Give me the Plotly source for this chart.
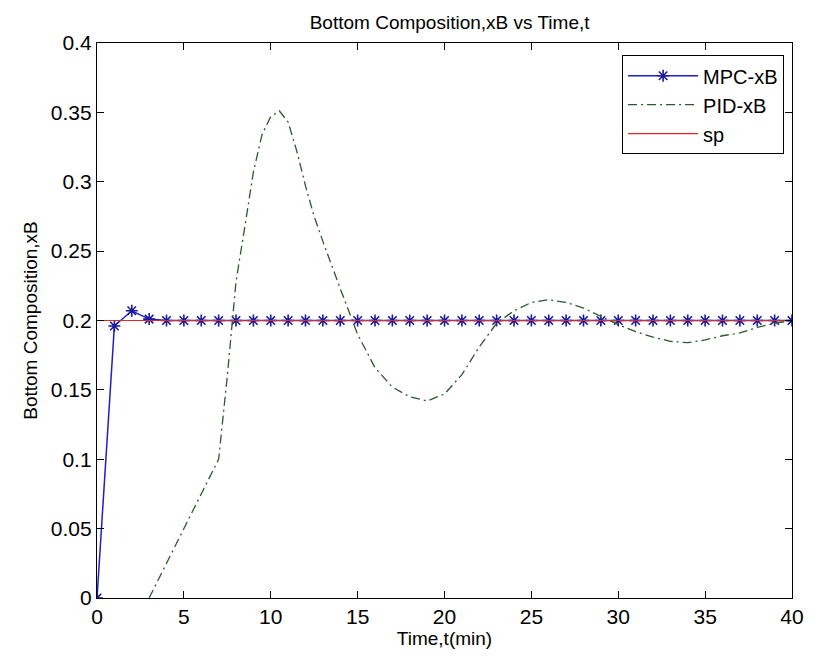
import plotly.graph_objects as go

# ---- data ----
mpc_t = list(range(0, 41))
mpc_xb = [0.0, 0.196, 0.207, 0.201] + [0.2] * 37

pid_t = [3, 4, 5, 6, 7, 7.5, 8, 8.5, 9, 9.5, 10, 10.5, 11, 11.5, 12, 12.5, 13,
         14, 15, 16, 17, 18, 19, 20, 21, 22, 23, 24, 25, 26, 27, 28, 29, 30,
         31, 32, 33, 34, 35, 36, 37, 38, 39, 40]
pid_xb = [0.0, 0.025, 0.05, 0.075, 0.1, 0.16, 0.228, 0.267, 0.307, 0.334, 0.347,
          0.351, 0.343, 0.322, 0.297, 0.275, 0.257, 0.223, 0.19, 0.166, 0.152,
          0.145, 0.142, 0.147, 0.161, 0.181, 0.198, 0.207, 0.213, 0.215, 0.213,
          0.209, 0.203, 0.197, 0.192, 0.188, 0.185, 0.184, 0.186, 0.189, 0.191,
          0.195, 0.198, 0.2]

sp_t = [0, 40]
sp_xb = [0.2, 0.2]

x_ticks = [0, 5, 10, 15, 20, 25, 30, 35, 40]
y_ticks = [0, 0.05, 0.1, 0.15, 0.2, 0.25, 0.3, 0.35, 0.4]
y_tick_text = ["0", "0.05", "0.1", "0.15", "0.2", "0.25", "0.3", "0.35", "0.4"]

FONT = "Liberation Sans, Arial, sans-serif"

fig = go.Figure()
fig.add_trace(go.Scatter(
    x=mpc_t, y=mpc_xb, name="MPC-xB", mode="lines+markers",
    line=dict(color="#1f1fc8", width=1.5),
    marker=dict(symbol="asterisk-open", size=10, color="#1a1a9a",
                line=dict(color="#1a1a9a", width=1.6)),
))
fig.add_trace(go.Scatter(
    x=pid_t, y=pid_xb, name="PID-xB", mode="lines",
    line=dict(color="#2a5a2a", width=1.3, dash="9px,4px,2px,4px"),
))
fig.add_trace(go.Scatter(
    x=sp_t, y=sp_xb, name="sp", mode="lines",
    line=dict(color="#e02828", width=1.2),
))

axis_common = dict(
    showline=True, linecolor="black", linewidth=1.3, mirror="ticks",
    ticks="inside", ticklen=7, tickwidth=1.2, tickcolor="black",
    showgrid=False, zeroline=False,
    tickfont=dict(family=FONT, size=21, color="black"),
)

fig.update_layout(
    width=816, height=659,
    margin=dict(l=97, r=15, t=43, b=61),
    paper_bgcolor="white", plot_bgcolor="white",
    title=dict(text="Bottom Composition,xB vs Time,t", x=0.551, xanchor="center",
               y=1 - 22 / 659, yanchor="middle",
               font=dict(family=FONT, size=19, color="black")),
    xaxis=dict(range=[0, 40], tickvals=x_ticks,
               title=dict(text="Time,t(min)", standoff=2,
                          font=dict(family=FONT, size=19, color="black")),
               **axis_common),
    yaxis=dict(range=[0, 0.4], tickvals=y_ticks, ticktext=y_tick_text,
               title=dict(text="Bottom Composition,xB", standoff=8,
                          font=dict(family=FONT, size=19, color="black")),
               **axis_common),
    legend=dict(x=0.9886, y=0.978, xanchor="right", yanchor="top",
                bgcolor="white", bordercolor="black", borderwidth=1,
                font=dict(family=FONT, size=20, color="black"),
                itemwidth=70, tracegroupgap=0),
    showlegend=True,
)

fig.write_html("out.html")
